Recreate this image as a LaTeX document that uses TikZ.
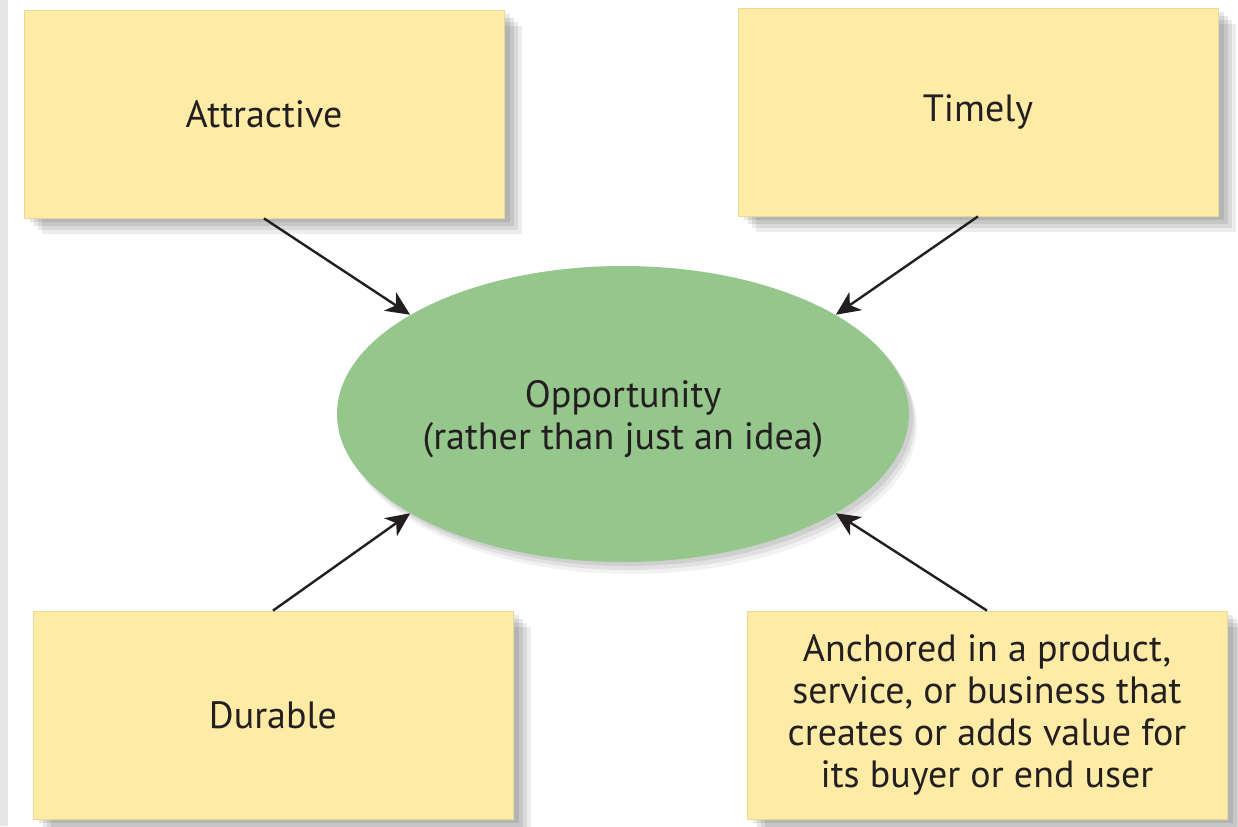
\documentclass[tikz,border=0pt]{standalone}
\usepackage{fontspec}
\setmainfont{PT Sans}
\usetikzlibrary{shapes.geometric,shadows,arrows.meta}
\definecolor{boxyellow}{HTML}{FEEBA6}
\definecolor{boxedge}{HTML}{EAD895}
\definecolor{oppgreen}{HTML}{95C68B}
\definecolor{inkblack}{HTML}{231F20}
\definecolor{edgegray}{HTML}{E6E6E6}

\begin{document}
\begin{tikzpicture}[x=0.5pt,y=-0.5pt,
      every node/.style={align=center,text=inkblack,font=\fontsize{19}{21}\selectfont},
      softshadow/.style={drop shadow={shadow xshift=9pt,shadow yshift=-8pt,fill=black,opacity=.07},
                         drop shadow={shadow xshift=7pt,shadow yshift=-6pt,fill=black,opacity=.08},
                         drop shadow={shadow xshift=5pt,shadow yshift=-4pt,fill=black,opacity=.09},
                         drop shadow={shadow xshift=3pt,shadow yshift=-2pt,fill=black,opacity=.09}},
      quality/.style={rectangle,fill=boxyellow,draw=boxedge,line width=.4pt,
                      minimum width=240pt,minimum height=104pt,inner sep=0pt,softshadow},
      opp/.style={ellipse,fill=oppgreen,minimum width=286pt,minimum height=148pt,inner sep=0pt,
                  drop shadow={shadow xshift=4pt,shadow yshift=-6pt,fill=black,opacity=.05},
                  drop shadow={shadow xshift=3pt,shadow yshift=-4pt,fill=black,opacity=.07},
                  drop shadow={shadow xshift=2pt,shadow yshift=-2pt,fill=black,opacity=.08}},
      feeds/.style={-{Stealth[length=12pt,width=11pt,inset=3.5pt]},line width=1.2pt,draw=inkblack}]
    \useasboundingbox (0,0) rectangle (1238,826);
    \fill[edgegray] (0,0) rectangle (8,826);
    % centre
    \node[opp] (opp) at (623,414) {\rule{0pt}{19pt}Opportunity\\(rather than just an idea)};
    % the four qualities
    \node[quality] (attr) at (264,114)   {Attractive};
    \node[quality] (timely) at (978,112) {Timely};
    \node[quality] (dur) at (273,715)    {Durable};
    \node[quality] (anch) at (987,715)
      {Anchored in a product,\\service, or business that\\creates or adds value for\\its buyer or end user};
    % arrows into the opportunity
    \draw[feeds] (attr.south) -- (opp.155);
    \draw[feeds] (timely.south) -- (opp.25);
    \draw[feeds] (dur.north) -- (opp.205);
    \draw[feeds] (anch.north) -- (opp.335);
  \end{tikzpicture}
\end{document}
